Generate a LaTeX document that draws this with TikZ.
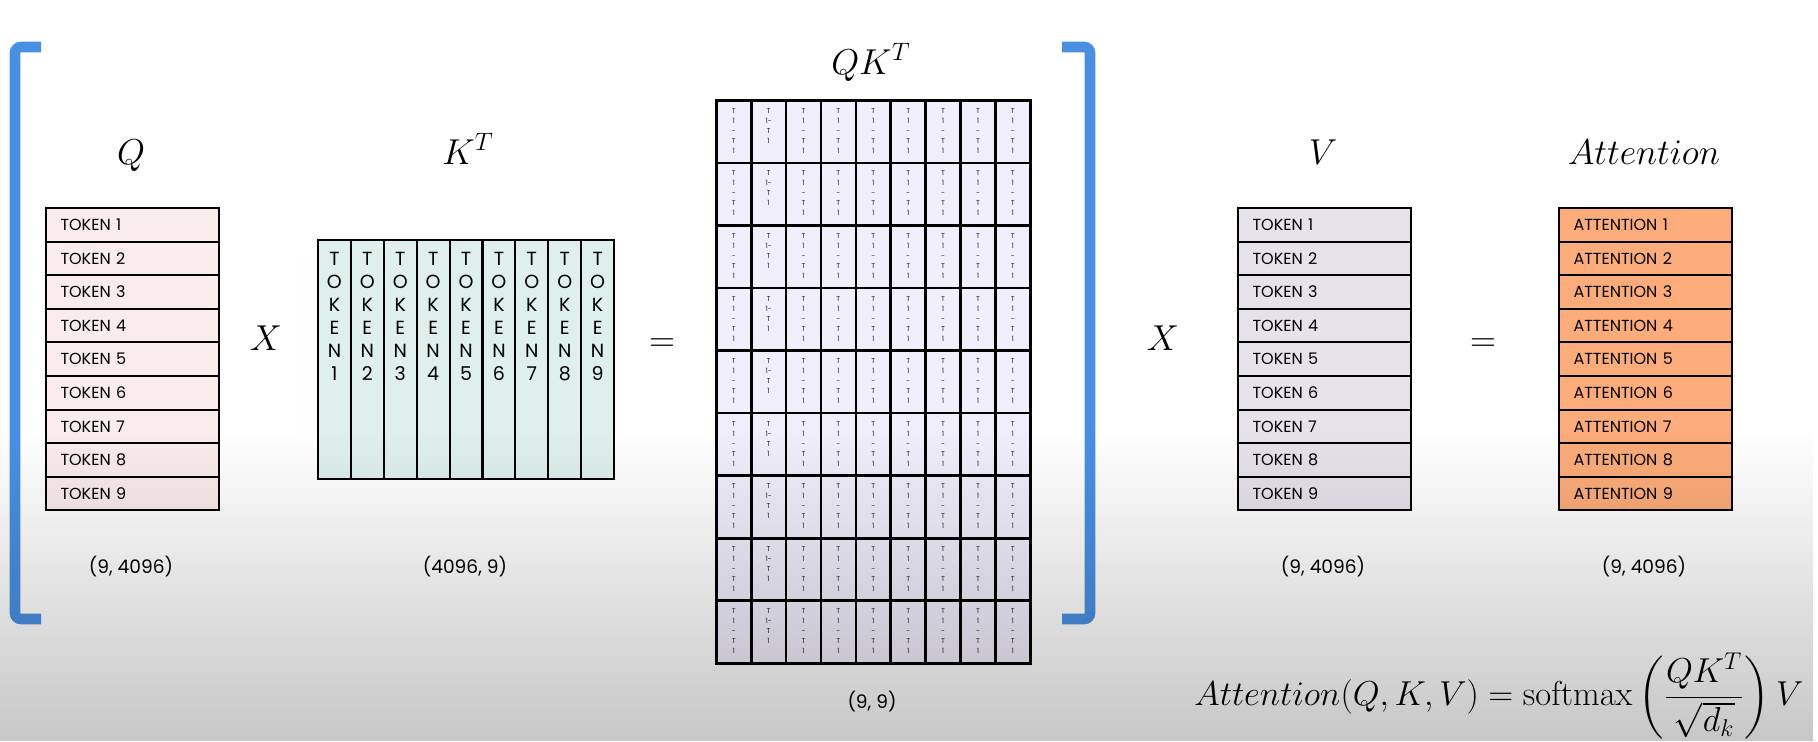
\RequirePackage{fix-cm}
\documentclass[tikz,border=0pt]{standalone}
\usepackage{amsmath}
\usepackage[no-math]{fontspec}
\newfontfamily\popfont{Poppins}
\usetikzlibrary{fadings}
\definecolor{qfill}{RGB}{250,236,236}
\definecolor{kfill}{RGB}{222,239,236}
\definecolor{sfill}{RGB}{241,238,252}
\definecolor{vfill}{RGB}{229,227,233}
\definecolor{attfill}{RGB}{252,172,122}
\definecolor{bracketblue}{RGB}{74,144,226}

\begin{document}
\begin{tikzpicture}[x=0.5pt, y=-0.5pt,
    rowcell/.style={draw, line width=1pt, anchor=north west, minimum width=86.5pt, minimum height=16.8pt,
        text width=72pt, inner xsep=7.25pt, inner ysep=0pt, align=left, font=\popfont\fontsize{8}{9.6}\selectfont},
    kcol/.style={draw, fill=kfill, line width=1pt, anchor=north west, minimum width=16.44pt, minimum height=119.5pt, inner sep=0pt},
    ktext/.style={anchor=north, inner sep=0pt, align=center, font=\popfont\fontsize{9.5}{11.5}\selectfont},
    scell/.style={draw, fill=sfill, line width=1.3pt, anchor=north west, minimum width=17.44pt, minimum height=31.28pt, inner sep=0pt},
    stext/.style={anchor=north, inner sep=0pt, align=center, text=black!85, font=\popfont\fontsize{3.6}{5}\selectfont},
    mlabel/.style={anchor=base, inner sep=0pt, font=\fontsize{18}{21}\selectfont},
    dimlabel/.style={inner sep=0pt, font=\popfont\fontsize{9.3}{11}\selectfont},
    bracketline/.style={draw=bracketblue, line width=5.3pt, rounded corners=3pt}]
    \fill[white] (0,0) rectangle (1818,741);
    \useasboundingbox (0,0) rectangle (1818,741);

    \draw[bracketline] (41,47) -- (15,47) -- (15,619) -- (41,619);
    \draw[bracketline] (1062,47) -- (1090,47) -- (1090,619) -- (1062,619);

    \foreach \i in {1,...,9} {
        \node[rowcell, fill=qfill] (q\i) at (45, {207+33.6*(\i-1)}) {TOKEN \i};
        \node[rowcell, fill=vfill] (v\i) at (1237, {207+33.6*(\i-1)}) {TOKEN \i};
        \node[rowcell, fill=attfill] (a\i) at (1558, {207+33.6*(\i-1)}) {ATTENTION \i};
        \node[kcol] (k\i) at ({317+32.9*(\i-1)}, 239) {};
        \node[ktext] (kt\i) at ([yshift=-6.5pt]k\i.north) {T\\O\\K\\E\\N\\\i};
    }

    \foreach \r in {1,...,9} {
        \foreach \c in {1,...,9} {
            \ifnum\c=2 \def\celltxt{T\\1-\\T\\1}\else \def\celltxt{T\\1\\-\\T\\1}\fi
            \node[scell] (s\r-\c) at ({715+34.89*(\c-1)}, {99+62.56*(\r-1)}) {};
            \node[stext] (st\r-\c) at ([yshift=-4.5pt]s\r-\c.north) {\celltxt};
        }
    }

    \node[mlabel] (qlab) at (131,164) {$Q$};
    \node[mlabel] (klab) at (468,164) {$K^T$};
    \node[mlabel] (qklab) at (871,74) {$QK^T$};
    \node[mlabel] (vlab) at (1323,164) {$V$};
    \node[mlabel] (attlab) at (1644,164) {$Attention$};
    \node[mlabel] (times1) at (266,350) {$X$};
    \node[mlabel] (eq1) at (662,351) {$=$};
    \node[mlabel] (times2) at (1163,350) {$X$};
    \node[mlabel] (eq2) at (1483,351) {$=$};

    \node[dimlabel] (qdim) at (131,567) {(9, 4096)};
    \node[dimlabel] (kdim) at (465,567) {(4096, 9)};
    \node[dimlabel] (sdim) at (872,702) {(9, 9)};
    \node[dimlabel] (vdim) at (1323,567) {(9, 4096)};
    \node[dimlabel] (attdim) at (1644,567) {(9, 4096)};

    \node[anchor=west, inner sep=0pt, font=\fontsize{17.3}{20}\selectfont] (formula) at (1194,696)
        {$\displaystyle Attention(Q,K,V)=\mathrm{softmax}\left(\frac{QK^T}{\sqrt{d_k}}\right)V$};

    \fill[black, opacity=0.22, path fading=north] (0,430) rectangle (1818,741);
\end{tikzpicture}
\end{document}
